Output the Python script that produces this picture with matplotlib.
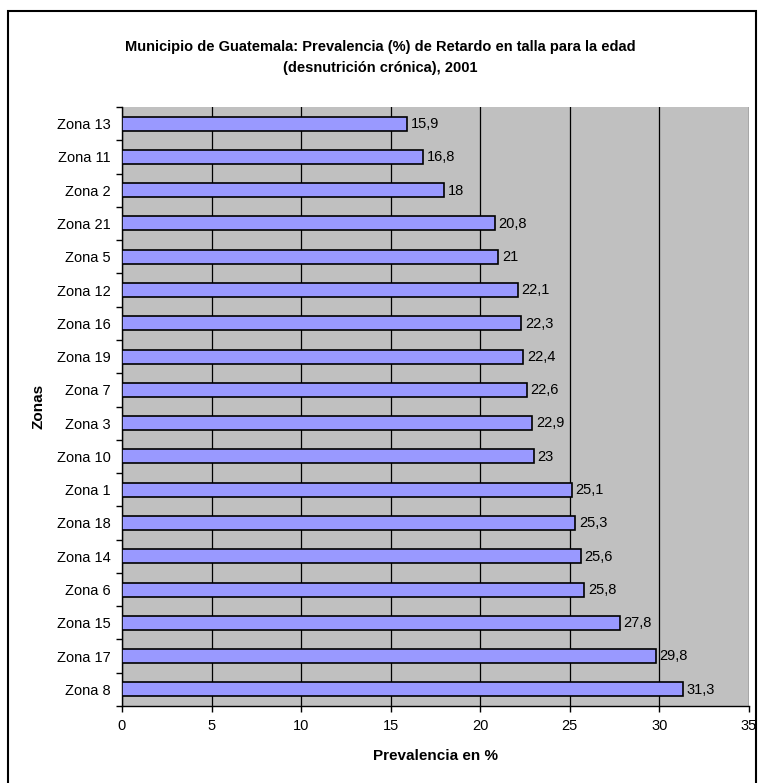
import matplotlib
matplotlib.use('Agg')
import matplotlib.pyplot as plt
from matplotlib.patches import Rectangle
from matplotlib.ticker import FixedLocator

plt.rcParams['font.family'] = ['Liberation Sans', 'DejaVu Sans']

# Prevalencia de retardo en talla por zona
zonas = ['Zona 13', 'Zona 11', 'Zona 2', 'Zona 21', 'Zona 5', 'Zona 12', 'Zona 16',
         'Zona 19', 'Zona 7', 'Zona 3', 'Zona 10', 'Zona 1', 'Zona 18', 'Zona 14',
         'Zona 6', 'Zona 15', 'Zona 17', 'Zona 8']
prevalencia = [15.9, 16.8, 18, 20.8, 21, 22.1, 22.3, 22.4, 22.6, 22.9, 23, 25.1,
               25.3, 25.6, 25.8, 27.8, 29.8, 31.3]
x_ticks = [0, 5, 10, 15, 20, 25, 30, 35]

W, H = 758, 783
fig = plt.figure(figsize=(W / 100, H / 100), dpi=100)
ax = fig.add_axes([122 / W, 1 - 706 / H, (749 - 122) / W, (706 - 107) / H])

# marco exterior del grafico
fig.patches.append(Rectangle((8 / W, -0.1), (756 - 8) / W, 1.1 - 11 / H,
                             transform=fig.transFigure, fill=False,
                             edgecolor='black', linewidth=1.5))

ax.set_facecolor('#c0c0c0')
pos = list(range(len(zonas)))
ax.barh(pos, prevalencia, height=0.42, color='#9999ff', edgecolor='black',
        linewidth=1.2, zorder=3)

for p, v in zip(pos, prevalencia):
    ax.text(v + 0.2, p + 0.01, f'{v:g}'.replace('.', ','), va='center', ha='left',
            fontsize=10.5, zorder=4)

ax.set_xlim(0, 35)
ax.set_ylim(len(zonas) - 0.5, -0.5)
ax.set_xticks(x_ticks)
ax.set_yticks(pos)
ax.set_yticklabels(zonas, fontsize=10.5)
ax.yaxis.set_minor_locator(FixedLocator([i - 0.5 for i in range(len(zonas) + 1)]))
ax.tick_params(axis='y', which='major', length=0, pad=8)
ax.tick_params(axis='y', which='minor', length=4, width=1)
ax.tick_params(axis='x', labelsize=10.5, length=4, width=1, pad=5)

ax.grid(axis='x', color='black', linewidth=0.9, zorder=1)
ax.set_axisbelow(True)
for s in ['top', 'right']:
    ax.spines[s].set_visible(False)
ax.spines['left'].set_linewidth(1)
ax.spines['bottom'].set_linewidth(1)

ax.set_xlabel('Prevalencia en %', fontsize=11, fontweight='bold', labelpad=12)
ax.set_ylabel('Zonas', fontsize=11, fontweight='bold', labelpad=8)

fig.text(380 / W, 1 - 47 / H,
         'Municipio de Guatemala: Prevalencia (%) de Retardo en talla para la edad',
         ha='center', va='center', fontsize=10.5, fontweight='bold')
fig.text(380 / W, 1 - 68 / H, '(desnutrición crónica), 2001',
         ha='center', va='center', fontsize=10.5, fontweight='bold')

fig.savefig('out.png', dpi=100)
